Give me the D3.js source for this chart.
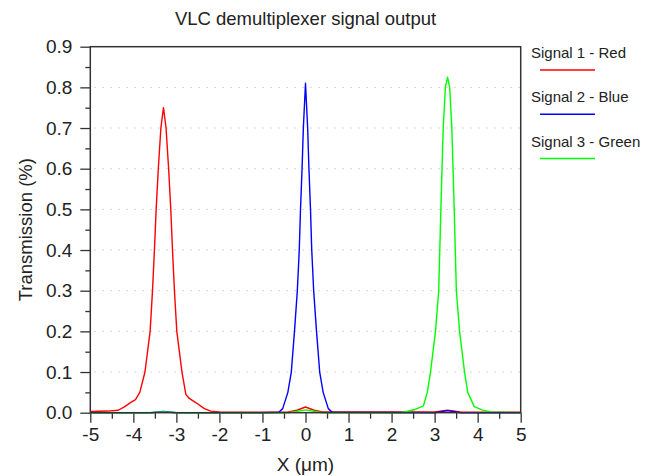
<!DOCTYPE html>
<html>
<head>
<meta charset="utf-8">
<script src="https://d3js.org/d3.v7.min.js"></script>
<style>
  body { margin: 0; background: #fff; }
  text { font-family: "Liberation Sans", Arial, sans-serif; fill: #222; }
</style>
</head>
<body>
<svg width="656" height="476"></svg>
<script>
// series (x in um, transmission)
var redX = [-5, -4.6, -4.35, -4.2, -4.05, -3.95, -3.85, -3.73, -3.61, -3.555, -3.51, -3.47, -3.42, -3.36, -3.3, -3.24, -3.18, -3.13, -3.09, -3.045, -2.99, -2.87, -2.78, -2.7, -2.55, -2.35, -2.2, -2.0, -1.0, -0.4, -0.2, 0, 0.2, 0.4, 3.0, 3.3, 3.6, 5];
var redY = [0.003, 0.004, 0.006, 0.015, 0.026, 0.032, 0.05, 0.1, 0.2, 0.3, 0.4, 0.5, 0.6, 0.7, 0.75, 0.7, 0.6, 0.5, 0.4, 0.3, 0.2, 0.1, 0.045, 0.035, 0.025, 0.01, 0.004, 0.002, 0.001, 0.002, 0.006, 0.014, 0.006, 0.002, 0.002, 0.006, 0.002, 0.001];

var blueX = [-5, -3.6, -3.3, -3.0, -1.0, -0.62, -0.53, -0.41, -0.33, -0.256, -0.19, -0.145, -0.116, -0.08, -0.05, 0, 0.05, 0.08, 0.116, 0.145, 0.19, 0.256, 0.33, 0.41, 0.53, 0.62, 3.0, 3.3, 3.6, 5];
var blueY = [0, 0, 0.003, 0, 0, 0.001, 0.01, 0.05, 0.1, 0.2, 0.3, 0.4, 0.5, 0.6, 0.7, 0.81, 0.7, 0.6, 0.5, 0.4, 0.3, 0.2, 0.1, 0.05, 0.01, 0.001, 0, 0.005, 0, 0];

var greenX = [-5, -3.6, -3.3, -3.0, -0.4, 0, 0.4, 2.2, 2.35, 2.55, 2.74, 2.83, 2.905, 3.02, 3.095, 3.12, 3.145, 3.172, 3.2, 3.25, 3.3, 3.35, 3.4, 3.428, 3.455, 3.48, 3.505, 3.58, 3.695, 3.77, 3.92, 4.1, 4.3, 5];
var greenY = [0, 0, 0.002, 0, 0, 0.007, 0, 0, 0.003, 0.008, 0.017, 0.05, 0.1, 0.2, 0.3, 0.4, 0.5, 0.6, 0.7, 0.8, 0.825, 0.8, 0.7, 0.6, 0.5, 0.4, 0.3, 0.2, 0.1, 0.05, 0.015, 0.007, 0.002, 0];

var seriesNames = ["Signal 1 - Red", "Signal 2 - Blue", "Signal 3 - Green"];
var seriesColors = ["#ff0000", "#0000ff", "#00ff00"];
var xTicks = [-5, -4, -3, -2, -1, 0, 1, 2, 3, 4, 5];
var yTicks = [0, 0.1, 0.2, 0.3, 0.4, 0.5, 0.6, 0.7, 0.8, 0.9];

var svg = d3.select("svg");
var plotL = 90.3, plotR = 520.7, plotT = 46.7, plotB = 412.7;

var x = d3.scaleLinear().domain([-5, 5]).range([plotL, plotR]);
var y = d3.scaleLinear().domain([0, 0.9]).range([plotB, plotT]);

// dotted grid lines
svg.append("g")
  .selectAll("line")
  .data(yTicks.slice(1, -1))
  .enter().append("line")
  .attr("x1", plotL + 4).attr("x2", plotR)
  .attr("y1", function(d) { return y(d); })
  .attr("y2", function(d) { return y(d); })
  .attr("stroke", "#c8c8c8")
  .attr("stroke-dasharray", "1.5,6.5");

// minor ticks
var minorX = d3.range(-4.5, 5, 1);
var minorY = d3.range(0.05, 0.9, 0.1);
svg.append("g")
  .attr("transform", "translate(0," + plotB + ")")
  .call(d3.axisBottom(x).tickValues(minorX).tickSize(6).tickFormat(""))
  .call(function(g) { g.select(".domain").remove(); });
svg.append("g")
  .attr("transform", "translate(" + plotL + ",0)")
  .call(d3.axisLeft(y).tickValues(minorY).tickSize(5).tickFormat(""))
  .call(function(g) { g.select(".domain").remove(); });

// major ticks + labels (plain hyphen for negatives, like the original)
var xAxis = svg.append("g")
  .attr("transform", "translate(0," + plotB + ")")
  .call(d3.axisBottom(x).tickValues(xTicks).tickSize(10).tickPadding(5)
    .tickFormat(function(d) { return String(d); }));
xAxis.select(".domain").remove();
xAxis.selectAll("text").style("font-size", "19px").attr("fill", "#222");

var yAxis = svg.append("g")
  .attr("transform", "translate(" + plotL + ",0)")
  .call(d3.axisLeft(y).tickValues(yTicks).tickSize(10).tickPadding(8).tickFormat(d3.format(".1f")));
yAxis.select(".domain").remove();
yAxis.selectAll("text").style("font-size", "19px").attr("fill", "#222");

svg.selectAll(".tick line").attr("stroke", "#333").attr("stroke-width", 1.3);

// the curves
var line = d3.line()
  .x(function(d) { return x(d[0]); })
  .y(function(d) { return y(d[1]); });

var allX = [redX, blueX, greenX];
var allY = [redY, blueY, greenY];
allX.forEach(function(xs, i) {
  var pts = xs.map(function(v, j) { return [v, allY[i][j]]; });
  svg.append("path")
    .datum(pts)
    .attr("d", line)
    .attr("fill", "none")
    .attr("stroke", seriesColors[i])
    .attr("stroke-width", 1.4)
    .attr("stroke-linejoin", "round");
});

// frame
svg.append("rect")
  .attr("x", plotL).attr("y", plotT)
  .attr("width", plotR - plotL).attr("height", plotB - plotT)
  .attr("fill", "none")
  .attr("stroke", "#333")
  .attr("stroke-width", 1.5);

// title and axis labels
svg.append("text")
  .attr("x", (plotL + plotR) / 2).attr("y", 25)
  .attr("text-anchor", "middle")
  .style("font-size", "18.5px")
  .text("VLC demultiplexer signal output");

svg.append("text")
  .attr("x", (plotL + plotR) / 2).attr("y", 471)
  .attr("text-anchor", "middle")
  .style("font-size", "19px")
  .text("X (\u03bcm)");

svg.append("text")
  .attr("transform", "translate(32," + (plotT + plotB) / 2 + ") rotate(-90)")
  .attr("text-anchor", "middle")
  .style("font-size", "18.5px")
  .text("Transmission (%)");

// legend
var legend = svg.append("g")
  .selectAll("g")
  .data(seriesNames)
  .enter().append("g")
  .attr("transform", function(d, i) { return "translate(531," + (58 + i * 44.3) + ")"; });

legend.append("text")
  .style("font-size", "15px")
  .text(function(d) { return d; });

legend.append("line")
  .attr("x1", 9).attr("x2", 64)
  .attr("y1", 12).attr("y2", 12)
  .attr("stroke", function(d, i) { return seriesColors[i]; })
  .attr("stroke-width", 1.5);
</script>
</body>
</html>
